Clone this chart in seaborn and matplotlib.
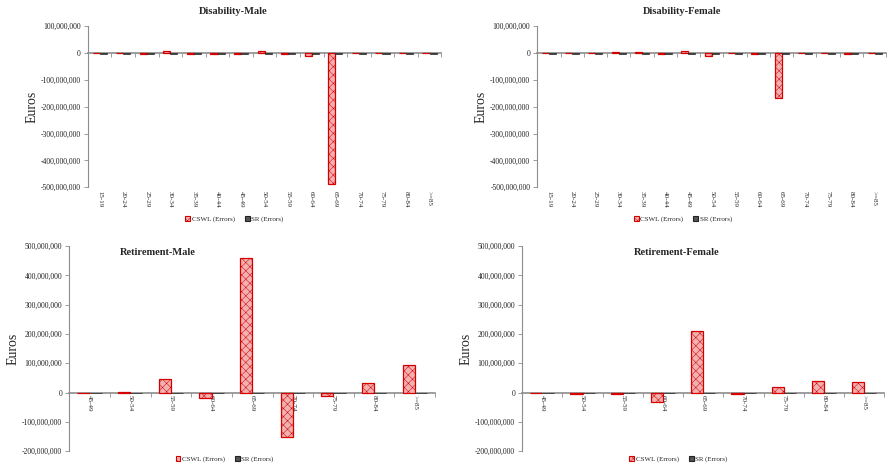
import numpy as np
import pandas as pd
import matplotlib
matplotlib.use("Agg")
import matplotlib.pyplot as plt
import seaborn as sns
from matplotlib.patches import Patch
from matplotlib.ticker import FuncFormatter

sns.set_theme(style="white")
plt.rcParams["font.family"] = ["Liberation Serif", "DejaVu Serif"]
plt.rcParams["hatch.linewidth"] = 0.35

# ---------------- data ----------------
dis_ages = ["15-19", "20-24", "25-29", "30-34", "35-39", "40-44", "45-49", "50-54",
            "55-59", "60-64", "65-69", "70-74", "75-79", "80-84", ">=85"]
dis_male_cswl = [-1e6, 2e6, -4e6, 9e6, -5e6, -3e6, -4e6, 8e6, -4e6, -12e6, -488e6, -1e6, -1e6, -1e6, -1e6]
dis_male_sr = [-2e6] * 15
dis_female_cswl = [-1e6, -1e6, 1e6, 5e6, 5e6, -3e6, 9e6, -10e6, 2e6, -5e6, -168e6, -1e6, -1e6, -2e6, -1e6]
dis_female_sr = [-2e6] * 15

ret_ages = ["45-49", "50-54", "55-59", "60-64", "65-69", "70-74", "75-79", "80-84", ">=85"]
ret_male_cswl = [-3e6, 3e6, 45e6, -17e6, 459e6, -152e6, -13e6, 33e6, 95e6]
ret_male_sr = [-2e6] * 9
ret_female_cswl = [-1e6, -5e6, -5e6, -32e6, 212e6, -5e6, 18e6, 41e6, 35e6]
ret_female_sr = [-2e6] * 9

series_names = ["CSWL (Errors)", "SR (Errors)"]
titles = ["Disability-Male", "Disability-Female", "Retirement-Male", "Retirement-Female"]

CSWL_FACE = "#f3b0b0"
CSWL_EDGE = "#d40000"
SR_FACE = "#555555"
SR_EDGE = "#222222"
AXIS_GRAY = "#8c8c8c"

fig = plt.figure(figsize=(8.88, 4.68), dpi=100)


def draw(rect, ages, cswl, sr, ylim, yticks, labels_at_zero):
    ax = fig.add_axes(rect)
    n = len(ages)
    df = pd.DataFrame({
        "age": ages * 2,
        "series": [series_names[0]] * n + [series_names[1]] * n,
        "value": list(cswl) + list(sr),
    })
    sns.barplot(data=df, x="age", y="value", hue="series", order=ages,
                hue_order=series_names, palette=[CSWL_FACE, SR_FACE],
                saturation=1, width=0.6, ax=ax, legend=False)
    for p in ax.containers[0]:
        p.set_hatch("xxxx")
        p.set_edgecolor(CSWL_EDGE)
        p.set_linewidth(0.9)
    for p in ax.containers[1]:
        p.set_edgecolor(SR_EDGE)
        p.set_linewidth(0.5)

    ax.set_xlim(-0.5, n - 0.5)
    ax.set_ylim(*ylim)
    ax.set_yticks(yticks)
    ax.yaxis.set_major_formatter(FuncFormatter(lambda v, pos: f"{v:,.0f}"))
    for s in ("top", "right"):
        ax.spines[s].set_visible(False)
    ax.spines["left"].set_color(AXIS_GRAY)
    ax.spines["left"].set_linewidth(0.8)
    ax.spines["bottom"].set_position(("data", 0))
    ax.spines["bottom"].set_color(AXIS_GRAY)
    ax.spines["bottom"].set_linewidth(1.2)
    ax.spines["bottom"].set_zorder(0.5)
    ax.tick_params(axis="y", left=True, length=3, width=0.6, color=AXIS_GRAY,
                   labelsize=5.5, pad=2, labelcolor="#222222")
    ax.set_xticks(np.arange(-0.5, n, 1), minor=True)
    ax.tick_params(axis="x", which="minor", bottom=True, length=3, width=0.6,
                   color=AXIS_GRAY, direction="out")
    ax.tick_params(axis="x", which="major", bottom=True, length=0)
    ax.set_xlabel("")
    ax.set_ylabel("Euros", fontsize=10, labelpad=2)

    if labels_at_zero:
        ax.set_xticks(range(n), labels=ages)
        for t in ax.get_xticklabels():
            t.set_rotation(-90)
            t.set_fontsize(5)
            t.set_ha("center")
            t.set_va("top")
        ax.tick_params(axis="x", which="major", pad=2)
    else:
        ax.tick_params(axis="x", which="major", labelbottom=False)
        sec = ax.secondary_xaxis("bottom")
        sec.set_xticks(range(n), labels=ages)
        sec.spines["bottom"].set_visible(False)
        sec.tick_params(axis="x", length=0, pad=3, labelsize=5)
        for t in sec.get_xticklabels():
            t.set_rotation(-90)
            t.set_ha("center")
            t.set_va("top")
    return ax


draw([0.099, 0.600, 0.398, 0.344], dis_ages, dis_male_cswl, dis_male_sr,
     (-500e6, 100e6), np.arange(-500e6, 100e6 + 1, 100e6), False)
draw([0.605, 0.600, 0.393, 0.344], dis_ages, dis_female_cswl, dis_female_sr,
     (-500e6, 100e6), np.arange(-500e6, 100e6 + 1, 100e6), False)
draw([0.078, 0.036, 0.412, 0.438], ret_ages, ret_male_cswl, ret_male_sr,
     (-200e6, 500e6), np.arange(-200e6, 500e6 + 1, 100e6), True)
draw([0.588, 0.036, 0.408, 0.438], ret_ages, ret_female_cswl, ret_female_sr,
     (-200e6, 500e6), np.arange(-200e6, 500e6 + 1, 100e6), True)

# titles
fig.text(0.263, 0.976, titles[0], ha="center", va="center", fontsize=7.5, fontweight="bold")
fig.text(0.768, 0.976, titles[1], ha="center", va="center", fontsize=7.5, fontweight="bold")
fig.text(0.178, 0.461, titles[2], ha="center", va="center", fontsize=7.5, fontweight="bold")
fig.text(0.762, 0.461, titles[3], ha="center", va="center", fontsize=7.5, fontweight="bold")

# legends
handles = [Patch(facecolor=CSWL_FACE, edgecolor=CSWL_EDGE, hatch="xxxx", linewidth=0.8),
           Patch(facecolor=SR_FACE, edgecolor=SR_EDGE, linewidth=0.8)]
for (x, y) in [(0.264, 0.532), (0.769, 0.532), (0.253, 0.019), (0.764, 0.019)]:
    fig.legend(handles, series_names, loc="center", bbox_to_anchor=(x, y), ncol=2,
               frameon=False, fontsize=5, handlelength=0.7, handleheight=0.7,
               handletextpad=0.2, columnspacing=1.5, borderpad=0)

fig.savefig("out.png", dpi=100)
